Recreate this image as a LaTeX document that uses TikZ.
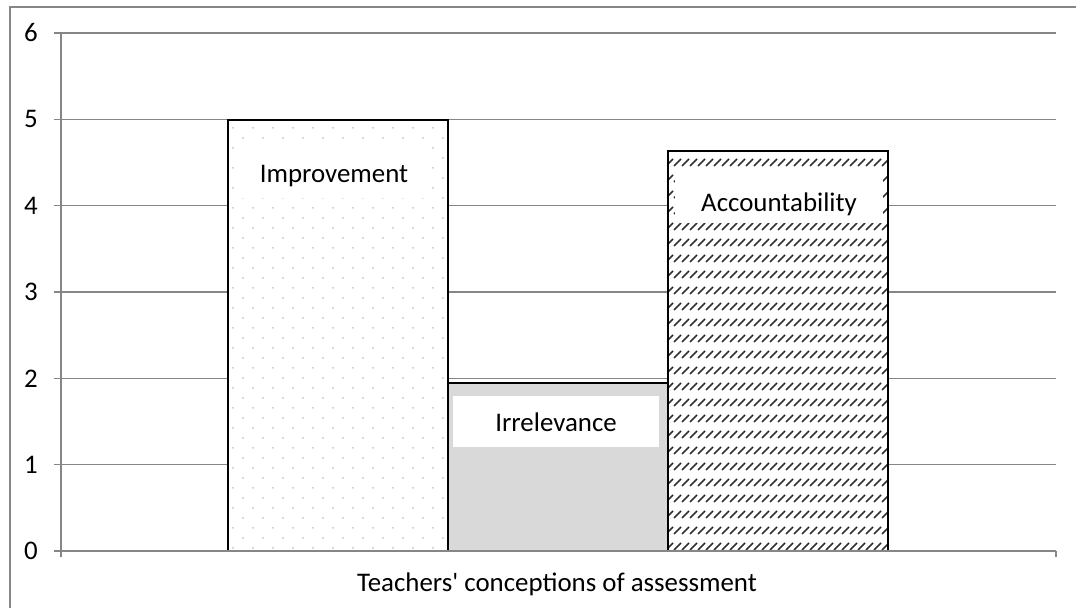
\documentclass[tikz,border=0pt]{standalone}
\usepackage{fontspec}
\setmainfont{Carlito}
\usepackage{xcolor}
\usepackage{tikz}
\definecolor{gridgray}{RGB}{134,134,134}
\definecolor{irrfill}{RGB}{217,217,217}
\definecolor{dotgray}{RGB}{196,196,196}
\definecolor{hatchgray}{RGB}{50,50,50}

\begin{document}
\begin{tikzpicture}[x=0.02cm,y=0.02cm,font=\fontsize{15.3}{18}\selectfont,
	gridline/.style={gridgray,line width=0.75pt},
	barbox/.style={black,line width=0.9pt},
	barlabel/.style={fill=white,inner sep=0pt},
	hatchline/.style={hatchgray,line width=0.95pt}]
				\useasboundingbox (0,0) rectangle (1076,608);
				\draw[gridline] (10,0) -- (10,601) -- (1076,601);
				% grid and value labels
				\foreach \v in {1,...,6}
					\draw[gridline] (54,{57+86.33*\v}) -- (1056,{57+86.33*\v});
				\foreach \v in {0,...,6}
					\node (tick\v) at (31,{57+86.33*\v}) {\v};
				% bars
				\fill[white] (228,57) rectangle (448,488);
				\begin{scope}
					\clip (228,57) rectangle (448,488);
					\foreach \r in {0,...,21}
						\foreach \c in {0,...,10} {
							\fill[dotgray] ({233+20*\c},{60+20*\r}) circle (1);
							\fill[dotgray] ({243+20*\c},{70+20*\r}) circle (1);
						}
				\end{scope}
				\draw[barbox] (228,57) rectangle (448,488);
				\draw[barbox,fill=irrfill] (448,57) rectangle (668,225);
				\fill[white] (668,57) rectangle (888,457);
				\begin{scope}
					\clip (668,57) rectangle (888,457);
					\foreach \r in {0,...,25}
						\foreach \c in {0,...,28}
							\draw[hatchline] ({666+8*\c},{58+16*\r}) -- ++(7,7);
				\end{scope}
				\draw[barbox] (668,57) rectangle (888,457);
				\node[barlabel,minimum width=3.92cm,text height=0.82cm,text depth=0.3cm] (improvement) at (334,438) {Improvement};
				\node[barlabel,minimum width=4.12cm,text height=0.72cm,text depth=0.3cm] (irrelevance) at (556,186.5) {Irrelevance};
				\node[barlabel,minimum width=4.16cm,text height=0.78cm,text depth=0.22cm] (accountability) at (779,410) {Accountability};
				% axes
				\draw[gridline] (54,57) -- (1056,57);
				\draw[gridline] (61,51) -- (61,575);
				\draw[gridline] (1056,51) -- (1056,57);
				\node (xtitle) at (557,24) {Teachers\textquotesingle\ conceptions of assessment};
			\end{tikzpicture}
\end{document}
